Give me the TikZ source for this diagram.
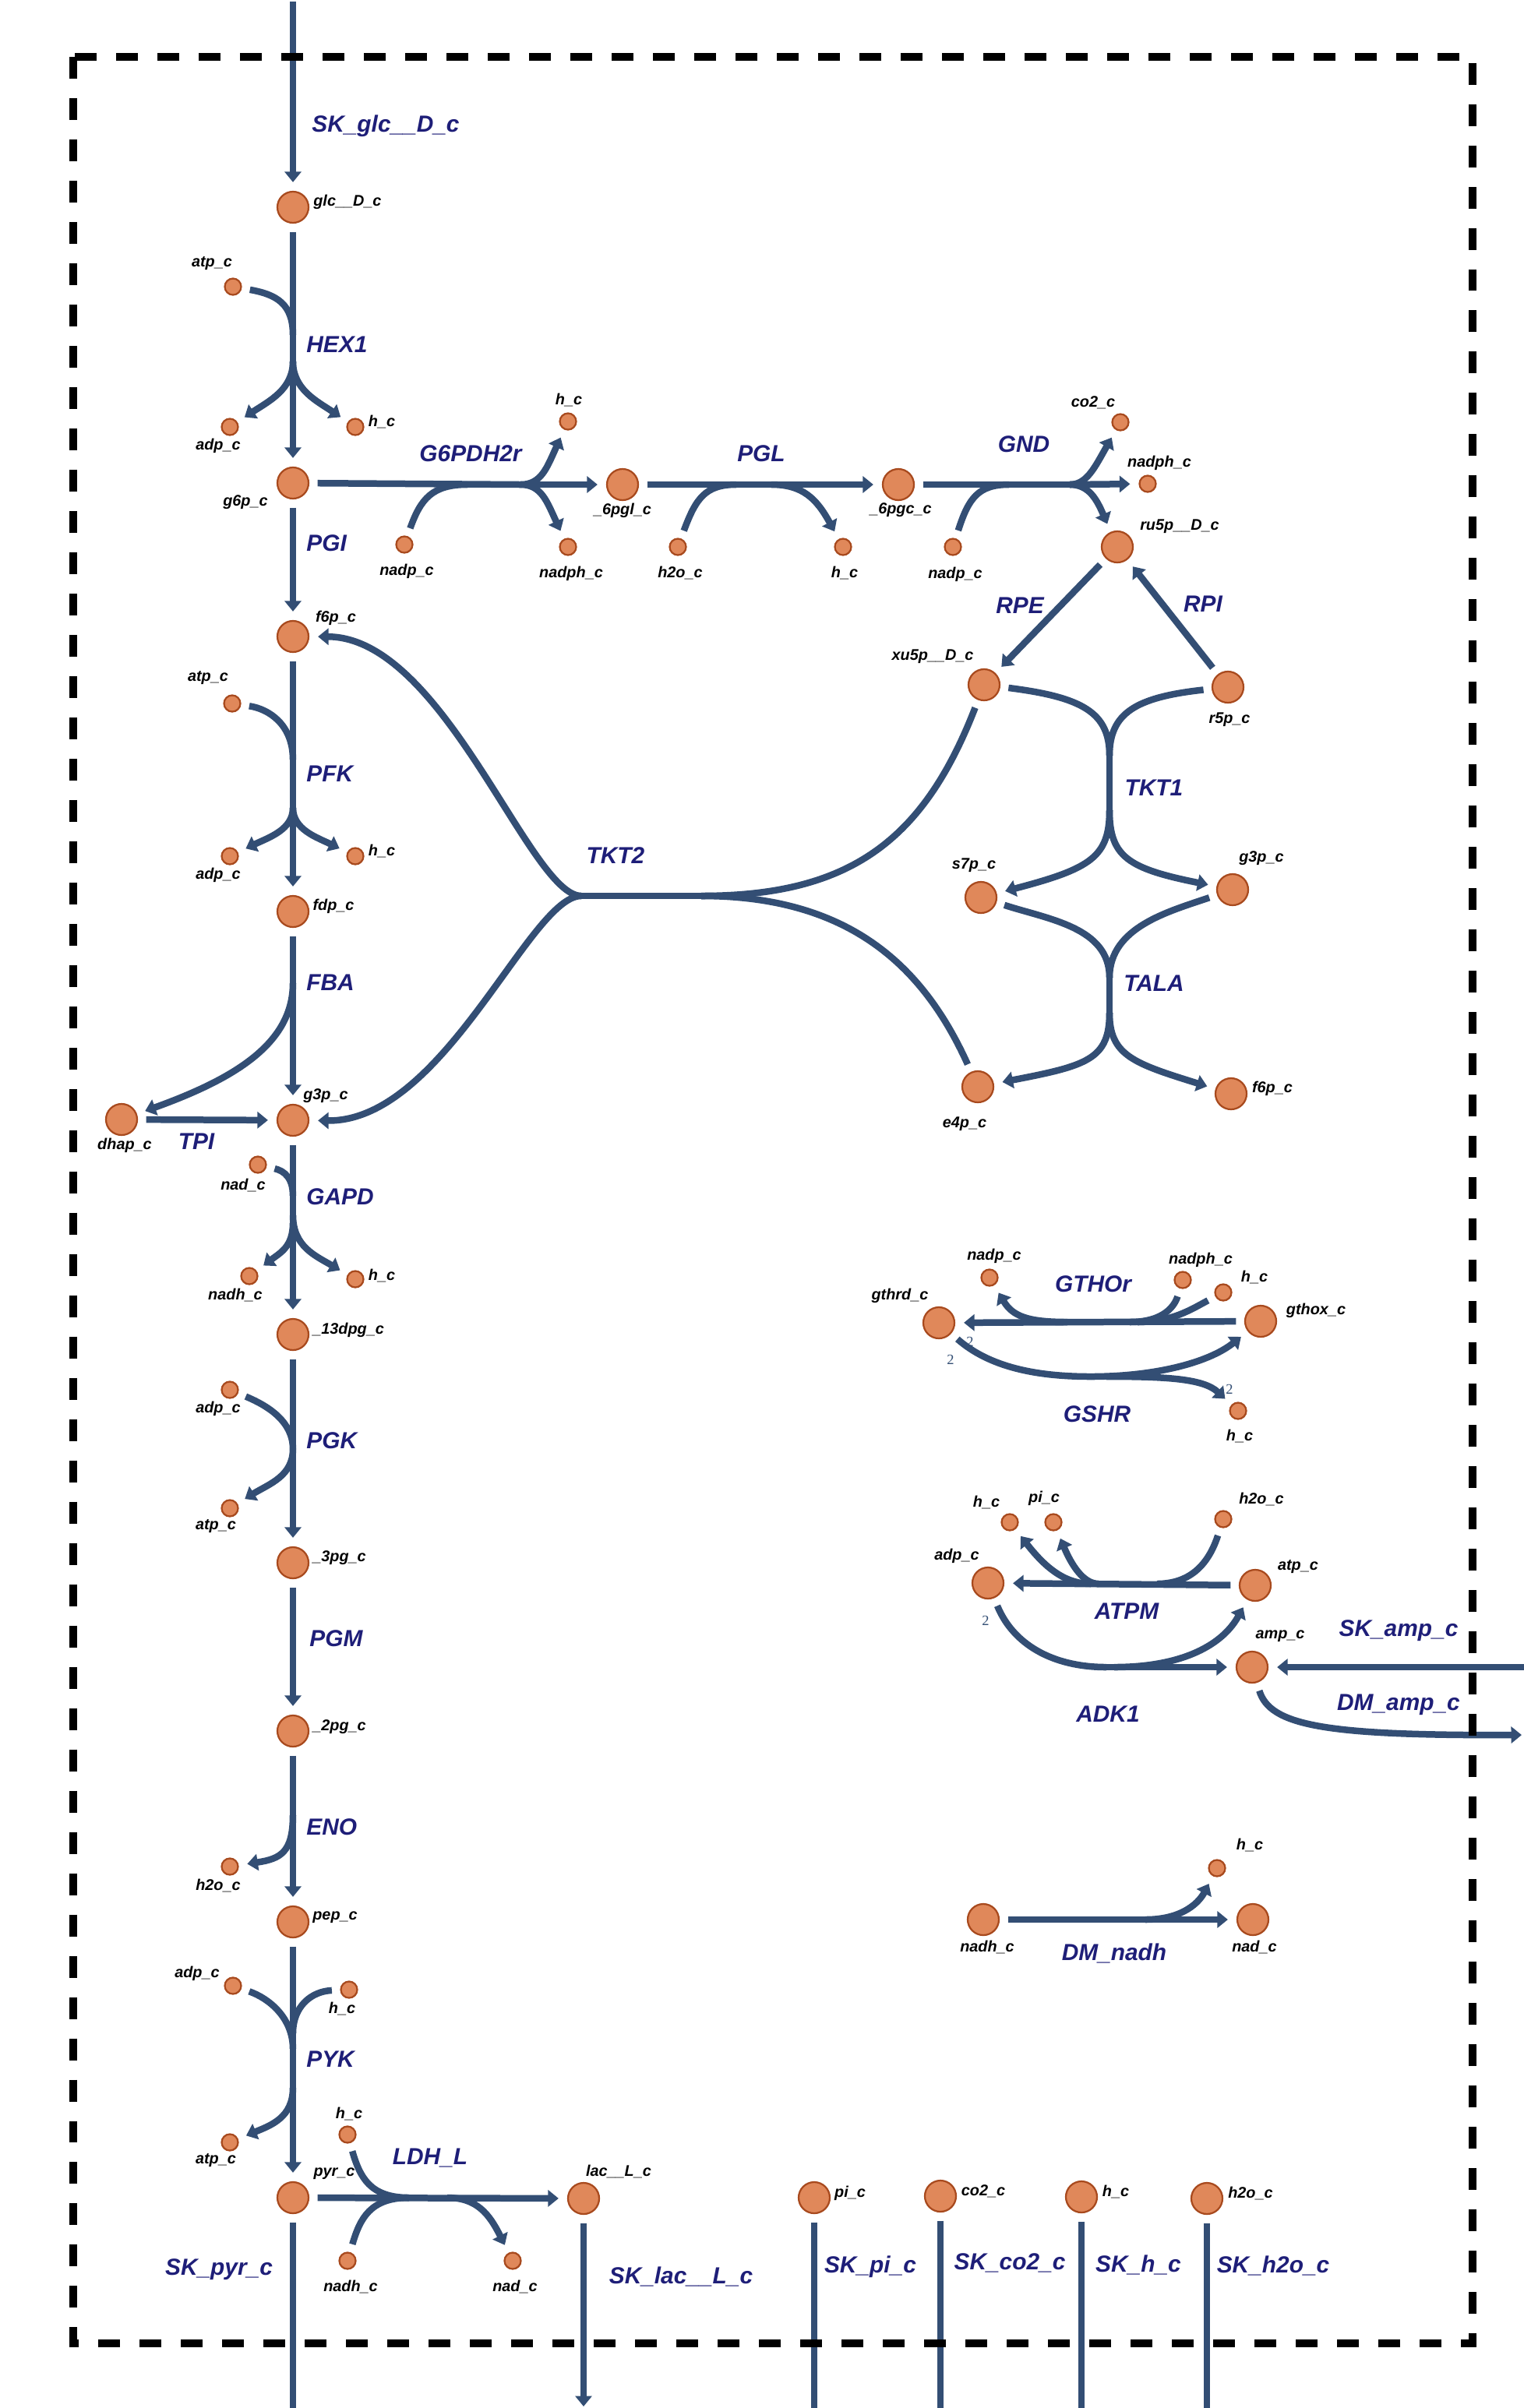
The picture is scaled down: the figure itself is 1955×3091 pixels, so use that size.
\documentclass[tikz,border=0pt]{standalone}
\usepackage{fontspec}
\newfontfamily\lsans{Liberation Sans}
\newfontfamily\lserif{Liberation Serif}
\usetikzlibrary{arrows.meta}
\definecolor{rxncol}{HTML}{334E74}
\definecolor{rxntext}{HTML}{1E1E78}
\definecolor{metfill}{HTML}{E0885A}
\definecolor{metedge}{HTML}{A84A1E}
\begin{document}
\begin{tikzpicture}[x=0.02cm,y=-0.02cm,
  met/.style={circle, draw=metedge, fill=metfill, line width=0.045cm, minimum size=0.8cm, inner sep=0pt},
  sm/.style={met, minimum size=0.42cm},
  ml/.style={font=\lsans\bfseries\itshape\fontsize{11.3}{12}\selectfont, inner sep=0pt},
  rl/.style={font=\lsans\bfseries\itshape\fontsize{17}{18}\selectfont, text=rxntext, inner sep=0pt},
  sto/.style={font=\lserif\fontsize{10.5}{11}\selectfont, text=rxncol, inner sep=0pt},
  rx/.style={draw=rxncol, line width=0.17cm},
  ar/.style={-{Triangle[width=0.42cm,length=0.27cm]}, shorten >=0.22cm},
  gs/.style={shorten <=0.21cm},
  ge/.style={shorten >=0.21cm},
  border/.style={draw=black, line width=0.214cm, dash pattern=on 0.56cm off 0.5cm}]
\path[use as bounding box] (0,0) rectangle (1955,3091);

% ---------------- major metabolites
\node[met] (glc) at (376,266) {};
\node[met] (g6p) at (376,620) {};
\node[met] (f6p) at (376,817) {};
\node[met] (fdp) at (376,1170) {};
\node[met] (g3p) at (376,1438) {};
\node[met] (dhap) at (156,1437) {};
\node[met] (dpg13) at (376,1713) {};
\node[met] (pg3) at (376,2006) {};
\node[met] (pg2) at (376,2222) {};
\node[met] (pep) at (376,2467) {};
\node[met] (pyr) at (376,2821) {};
\node[met] (lac) at (749,2822) {};
\node[met] (pgl6) at (799,622) {};
\node[met] (pgc6) at (1153,622) {};
\node[met] (ru5p) at (1434,702) {};
\node[met] (xu5p) at (1263,879) {};
\node[met] (r5p) at (1576,882) {};
\node[met] (s7p) at (1259,1152) {};
\node[met] (g3pB) at (1582,1142) {};
\node[met] (e4p) at (1255,1395) {};
\node[met] (f6pB) at (1580,1404) {};
\node[met] (gthrd) at (1205,1698) {};
\node[met] (gthox) at (1618,1696) {};
\node[met] (adpB) at (1268,2032) {};
\node[met] (atpB) at (1611,2035) {};
\node[met] (amp) at (1607,2140) {};
\node[met] (nadhB) at (1262,2464) {};
\node[met] (nadB) at (1608,2464) {};
\node[met] (piX) at (1045,2821) {};
\node[met] (co2X) at (1207,2819) {};
\node[met] (hX) at (1388,2820) {};
\node[met] (h2oX) at (1549,2822) {};

% ---------------- minor metabolites
\node[sm] (atp1) at (299,368) {};
\node[sm] (adp1) at (295,548) {};
\node[sm] (h1) at (456,548) {};
\node[sm] (nadp1) at (519,699) {};
\node[sm] (h2) at (729,541) {};
\node[sm] (nadph1) at (729,702) {};
\node[sm] (h2o1) at (870,702) {};
\node[sm] (h3) at (1082,702) {};
\node[sm] (nadp2) at (1223,702) {};
\node[sm] (co2a) at (1438,542) {};
\node[sm] (nadph2) at (1473,621) {};
\node[sm] (atp2) at (298,903) {};
\node[sm] (adp2) at (295,1099) {};
\node[sm] (h4) at (456,1099) {};
\node[sm] (nad1) at (331,1495) {};
\node[sm] (nadh1) at (320,1638) {};
\node[sm] (h5) at (456,1642) {};
\node[sm] (adp3) at (295,1784) {};
\node[sm] (atp3) at (295,1936) {};
\node[sm] (h2o2) at (295,2396) {};
\node[sm] (adp4) at (299,2549) {};
\node[sm] (h6) at (448,2554) {};
\node[sm] (atp4) at (295,2750) {};
\node[sm] (h7) at (446,2740) {};
\node[sm] (nadh2) at (446,2902) {};
\node[sm] (nad2) at (658,2902) {};
\node[sm] (nadp3) at (1270,1640) {};
\node[sm] (nadph3) at (1518,1643) {};
\node[sm] (h8) at (1570,1659) {};
\node[sm] (h9) at (1589,1811) {};
\node[sm] (h10) at (1296,1954) {};
\node[sm] (pi1) at (1352,1954) {};
\node[sm] (h2o3) at (1570,1950) {};
\node[sm] (h11) at (1562,2398) {};

% ---------------- branch points and free ends
\coordinate (skglcT) at (376,2);
\coordinate (hexJ) at (376,430);
\coordinate (hexS) at (376,464);
\coordinate (g6J) at (600,622);
\coordinate (g6S) at (668,622);
\coordinate (pglJ) at (945,622);
\coordinate (pglS) at (990,622);
\coordinate (gndJ) at (1295,622);
\coordinate (gndS) at (1373,622);
\coordinate (pfkJ) at (376,975);
\coordinate (pfkS) at (376,1037);
\coordinate (fbaS) at (376,1262);
\coordinate (tk2S) at (746,1150);
\coordinate (tk2R) at (900,1150);
\coordinate (tk1J) at (1424,970);
\coordinate (tk1S) at (1424,1040);
\coordinate (talJ) at (1424,1255);
\coordinate (talS) at (1424,1300);
\coordinate (gapJ) at (376,1535);
\coordinate (gapS1) at (376,1570);
\coordinate (gapS2) at (376,1560);
\coordinate (pgkM) at (376,1860);
\coordinate (enoS) at (376,2330);
\coordinate (pykJ1) at (376,2630);
\coordinate (pykJ2) at (376,2610);
\coordinate (pykS) at (376,2680);
\coordinate (ldhJ) at (525,2821);
\coordinate (ldhS) at (574,2821);
\coordinate (skpyrB) at (376,3093);
\coordinate (sklacB) at (749,3100);
\coordinate (skpiB) at (1045,3093);
\coordinate (skco2B) at (1207,3093);
\coordinate (skhB) at (1388,3093);
\coordinate (skh2oB) at (1549,3093);
\coordinate (gthJ1) at (1450,1697);
\coordinate (gthJ2) at (1460,1697);
\coordinate (gthS) at (1370,1697);
\coordinate (gshM) at (1400,1767);
\coordinate (gshS) at (1420,1767);
\coordinate (atpmJ) at (1485,2033);
\coordinate (atpmS1) at (1400,2033);
\coordinate (atpmS2) at (1410,2033);
\coordinate (adkM) at (1420,2140);
\coordinate (adkS) at (1430,2140);
\coordinate (skampR) at (1957,2140);
\coordinate (dmampR) at (1964,2227);
\coordinate (dmnS) at (1470,2464);

% ---------------- stoichiometry
\node[sto] (st1) at (1245,1722) {2};
\node[sto] (st2) at (1220,1745) {2};
\node[sto] (st3) at (1578,1783) {2};
\node[sto] (st4) at (1265,2080) {2};

% ---------------- reactions
% SK_glc__D_c
\draw[rx,ar] (skglcT) -- (glc);
% HEX1
\draw[rx,gs] (glc) -- (hexS);
\draw[rx,gs] (atp1) .. controls (355,378) and (376,390) .. (hexJ);
\draw[rx,ar] (hexS) -- (g6p);
\draw[rx,ar] (hexS) .. controls (376,500) and (345,515) .. (adp1);
\draw[rx,ar] (hexS) .. controls (376,500) and (407,515) .. (h1);
% G6PDH2r
\draw[rx,gs] (g6p) -- (g6S);
\draw[rx,gs] (nadp1) .. controls (540,640) and (555,622) .. (g6J);
\draw[rx,ar] (g6S) .. controls (695,622) and (702,600) .. (h2);
\draw[rx,ar] (g6S) .. controls (695,622) and (702,644) .. (nadph1);
\draw[rx,ar] (g6S) -- (pgl6);
% PGL
\draw[rx,gs,ar] (pgl6) -- (pgc6);
\draw[rx,gs] (h2o1) .. controls (893,640) and (905,622) .. (pglJ);
\draw[rx,ar] (pglS) .. controls (1030,622) and (1048,640) .. (h3);
% GND
\draw[rx,gs] (pgc6) -- (gndS);
\draw[rx,gs] (nadp2) .. controls (1243,640) and (1255,622) .. (gndJ);
\draw[rx,ar] (gndS) .. controls (1395,622) and (1405,600) .. (co2a);
\draw[rx,ar] (gndS) -- (nadph2);
\draw[rx,ar] (gndS) .. controls (1398,622) and (1408,642) .. (ru5p);
% RPE, RPI
\draw[rx,gs,ar] (ru5p) -- (xu5p);
\draw[rx,gs,ar] (r5p) -- (ru5p);
% PGI
\draw[rx,gs,ar] (g6p) -- (f6p);
% PFK
\draw[rx,gs,ar] (f6p) -- (fdp);
\draw[rx,gs] (atp2) .. controls (345,910) and (376,930) .. (pfkJ);
\draw[rx,ar] (pfkS) .. controls (376,1065) and (345,1075) .. (adp2);
\draw[rx,ar] (pfkS) .. controls (376,1065) and (407,1075) .. (h4);
% FBA
\draw[rx,gs,ar] (fdp) -- (g3p);
\draw[rx,ar] (fbaS) .. controls (376,1340) and (300,1385) .. (dhap);
% TPI
\draw[rx,gs,ar] (dhap) -- (g3p);
% TKT2
\draw[rx,ar] (tk2S) .. controls (680,1150) and (570,818) .. (f6p);
\draw[rx,ar] (tk2S) .. controls (680,1150) and (570,1440) .. (g3p);
\draw[rx] (tk2S) -- (tk2R);
\draw[rx,ge] (tk2R) .. controls (1090,1150) and (1185,1080) .. (xu5p);
\draw[rx,ge] (tk2R) .. controls (1090,1150) and (1185,1240) .. (e4p);
% TKT1
\draw[rx,gs] (xu5p) .. controls (1390,895) and (1424,915) .. (tk1J);
\draw[rx,gs] (r5p) .. controls (1458,895) and (1424,915) .. (tk1J);
\draw[rx] (tk1J) -- (tk1S);
\draw[rx,ar] (tk1S) .. controls (1424,1100) and (1400,1115) .. (s7p);
\draw[rx,ar] (tk1S) .. controls (1424,1100) and (1448,1115) .. (g3pB);
% TALA
\draw[rx,gs] (s7p) .. controls (1345,1180) and (1424,1190) .. (talJ);
\draw[rx,gs] (g3pB) .. controls (1500,1170) and (1424,1190) .. (talJ);
\draw[rx] (talJ) -- (talS);
\draw[rx,ar] (talS) .. controls (1424,1360) and (1395,1368) .. (e4p);
\draw[rx,ar] (talS) .. controls (1424,1355) and (1455,1365) .. (f6pB);
% GAPD
\draw[rx,gs,ar] (g3p) -- (dpg13);
\draw[rx,gs] (nad1) .. controls (365,1503) and (376,1512) .. (gapJ);
\draw[rx,ar] (gapS1) .. controls (376,1600) and (360,1608) .. (nadh1);
\draw[rx,ar] (gapS2) .. controls (376,1600) and (405,1612) .. (h5);
% PGK
\draw[rx,gs,ar] (dpg13) -- (pg3);
\draw[rx,gs] (adp3) .. controls (345,1805) and (376,1825) .. (pgkM);
\draw[rx,ar] (pgkM) .. controls (376,1895) and (345,1905) .. (atp3);
% PGM
\draw[rx,gs,ar] (pg3) -- (pg2);
% ENO
\draw[rx,gs,ar] (pg2) -- (pep);
\draw[rx,ar] (enoS) .. controls (376,2378) and (360,2386) .. (h2o2);
% PYK
\draw[rx,gs,ar] (pep) -- (pyr);
\draw[rx,gs] (adp4) .. controls (345,2565) and (376,2590) .. (pykJ1);
\draw[rx,gs] (h6) .. controls (400,2556) and (376,2575) .. (pykJ2);
\draw[rx,ar] (pykS) .. controls (376,2718) and (348,2728) .. (atp4);
% LDH_L
\draw[rx,gs,ar] (pyr) -- (lac);
\draw[rx,gs] (h7) .. controls (462,2795) and (475,2821) .. (ldhJ);
\draw[rx,gs] (nadh2) .. controls (462,2848) and (475,2821) .. (ldhJ);
\draw[rx,ar] (ldhS) .. controls (612,2821) and (628,2842) .. (nad2);
% sinks
\draw[rx,gs] (pyr) -- (skpyrB);
\draw[rx,gs,ar] (lac) -- (sklacB);
\draw[rx,gs] (piX) -- (skpiB);
\draw[rx,gs] (co2X) -- (skco2B);
\draw[rx,gs] (hX) -- (skhB);
\draw[rx,gs] (h2oX) -- (skh2oB);
% GTHOr
\draw[rx,gs,ar] (gthox) -- (gthrd);
\draw[rx,gs] (nadph3) .. controls (1508,1675) and (1495,1697) .. (gthJ1);
\draw[rx,gs] (h8) .. controls (1530,1680) and (1505,1697) .. (gthJ2);
\draw[rx,ar] (gthS) .. controls (1320,1697) and (1300,1690) .. (nadp3);
% GSHR
\draw[rx,gs] (gthrd) .. controls (1270,1755) and (1330,1767) .. (gshM);
\draw[rx,ar] (gshM) .. controls (1480,1767) and (1550,1750) .. (gthox);
\draw[rx,ar] (gshS) .. controls (1500,1767) and (1545,1770) .. (h9);
% ATPM
\draw[rx,gs,ar] (atpB) -- (adpB);
\draw[rx,gs] (h2o3) .. controls (1552,2005) and (1530,2033) .. (atpmJ);
\draw[rx,ar] (atpmS1) .. controls (1365,2033) and (1340,2010) .. (h10);
\draw[rx,ar] (atpmS2) .. controls (1390,2033) and (1375,2008) .. (pi1);
% ADK1
\draw[rx,gs] (adpB) .. controls (1300,2110) and (1350,2140) .. (adkM);
\draw[rx,ar] (adkM) -- (amp);
\draw[rx,ar] (adkS) .. controls (1520,2140) and (1570,2110) .. (atpB);
% SK_amp_c, DM_amp_c
\draw[rx,ar] (skampR) -- (amp);
\draw[rx,gs,ar] (amp) .. controls (1630,2215) and (1700,2228) .. (dmampR);
% DM_nadh
\draw[rx,gs,ar] (nadhB) -- (nadB);
\draw[rx,ar] (dmnS) .. controls (1520,2464) and (1540,2440) .. (h11);

% ---------------- metabolite labels
\node[ml,anchor=west] (lglc) at (402,259) {glc\_\_D\_c};
\node[ml] (lg6p) at (315,645) {g6p\_c};
\node[ml] (lf6p) at (431,793) {f6p\_c};
\node[ml] (latp2) at (267,870) {atp\_c};
\node[ml] (ladp2) at (280,1123) {adp\_c};
\node[ml] (lh4) at (490,1093) {h\_c};
\node[ml] (lfdp) at (428,1163) {fdp\_c};
\node[ml] (lg3p) at (418,1407) {g3p\_c};
\node[ml] (ldhap) at (160,1470) {dhap\_c};
\node[ml] (latp1) at (272,338) {atp\_c};
\node[ml] (ladp1) at (280,572) {adp\_c};
\node[ml] (lh1) at (490,542) {h\_c};
\node[ml] (lh2) at (730,514) {h\_c};
\node[ml] (lnadp1) at (522,733) {nadp\_c};
\node[ml] (lnadph1) at (733,736) {nadph\_c};
\node[ml] (lpgl6) at (799,655) {\_6pgl\_c};
\node[ml] (lh2o1) at (873,736) {h2o\_c};
\node[ml] (lh3) at (1084,736) {h\_c};
\node[ml] (lpgc6) at (1156,655) {\_6pgc\_c};
\node[ml] (lnadp2) at (1226,737) {nadp\_c};
\node[ml] (lco2a) at (1403,517) {co2\_c};
\node[ml] (lnadph2) at (1488,594) {nadph\_c};
\node[ml] (lru5p) at (1514,676) {ru5p\_\_D\_c};
\node[ml] (lxu5p) at (1197,843) {xu5p\_\_D\_c};
\node[ml] (lr5p) at (1578,924) {r5p\_c};
\node[ml] (ls7p) at (1250,1111) {s7p\_c};
\node[ml] (lg3pB) at (1619,1102) {g3p\_c};
\node[ml] (le4p) at (1238,1443) {e4p\_c};
\node[ml] (lf6pB) at (1633,1397) {f6p\_c};
\node[ml] (lnad1) at (312,1521) {nad\_c};
\node[ml] (lnadh1) at (302,1662) {nadh\_c};
\node[ml] (lh5) at (490,1637) {h\_c};
\node[ml,anchor=west] (ldpg13) at (401,1707) {\_13dpg\_c};
\node[ml] (ladp3) at (280,1808) {adp\_c};
\node[ml] (latp3) at (277,1959) {atp\_c};
\node[ml,anchor=west] (lpg3) at (401,2000) {\_3pg\_c};
\node[ml,anchor=west] (lpg2) at (401,2217) {\_2pg\_c};
\node[ml,anchor=west] (lpep) at (401,2461) {pep\_c};
\node[ml] (lh2o2) at (280,2420) {h2o\_c};
\node[ml] (ladp4) at (253,2533) {adp\_c};
\node[ml] (lh6) at (439,2578) {h\_c};
\node[ml] (latp4) at (277,2773) {atp\_c};
\node[ml] (lpyr) at (429,2790) {pyr\_c};
\node[ml] (lh7) at (448,2713) {h\_c};
\node[ml] (lnadh2) at (450,2935) {nadh\_c};
\node[ml] (lnad2) at (661,2935) {nad\_c};
\node[ml] (llac) at (794,2787) {lac\_\_L\_c};
\node[ml] (lpiX) at (1091,2815) {pi\_c};
\node[ml] (lco2X) at (1262,2813) {co2\_c};
\node[ml] (lhX) at (1432,2813) {h\_c};
\node[ml] (lh2oX) at (1605,2815) {h2o\_c};
\node[ml] (lgthrd) at (1155,1663) {gthrd\_c};
\node[ml] (lgthox) at (1689,1682) {gthox\_c};
\node[ml] (lnadp3) at (1276,1612) {nadp\_c};
\node[ml] (lnadph3) at (1541,1617) {nadph\_c};
\node[ml] (lh8) at (1610,1639) {h\_c};
\node[ml] (lh9) at (1591,1843) {h\_c};
\node[ml] (lh10) at (1266,1928) {h\_c};
\node[ml] (lpi1) at (1340,1923) {pi\_c};
\node[ml] (lh2o3) at (1619,1924) {h2o\_c};
\node[ml] (ladpB) at (1228,1997) {adp\_c};
\node[ml] (latpB) at (1666,2011) {atp\_c};
\node[ml] (lamp) at (1643,2100) {amp\_c};
\node[ml] (lnadhB) at (1267,2499) {nadh\_c};
\node[ml] (lnadB) at (1610,2499) {nad\_c};
\node[ml] (lh11) at (1604,2368) {h\_c};

% ---------------- reaction labels
\node[rl,anchor=west] (rskglc) at (400,162) {SK\_glc\_\_D\_c};
\node[rl,anchor=west] (rhex) at (393,442) {HEX1};
\node[rl,anchor=west] (rpgi) at (393,697) {PGI};
\node[rl] (rg6p) at (604,582) {G6PDH2r};
\node[rl] (rpgl) at (977,582) {PGL};
\node[rl] (rgnd) at (1314,570) {GND};
\node[rl] (rrpe) at (1309,777) {RPE};
\node[rl] (rrpi) at (1544,775) {RPI};
\node[rl,anchor=west] (rpfk) at (393,993) {PFK};
\node[rl,anchor=west] (rfba) at (393,1261) {FBA};
\node[rl] (rtkt2) at (790,1098) {TKT2};
\node[rl] (rtkt1) at (1481,1011) {TKT1};
\node[rl] (rtala) at (1481,1262) {TALA};
\node[rl] (rtpi) at (252,1465) {TPI};
\node[rl,anchor=west] (rgapd) at (393,1536) {GAPD};
\node[rl,anchor=west] (rpgk) at (393,1849) {PGK};
\node[rl,anchor=west] (rpgm) at (397,2103) {PGM};
\node[rl,anchor=west] (reno) at (393,2345) {ENO};
\node[rl,anchor=west] (rpyk) at (393,2643) {PYK};
\node[rl] (rldh) at (552,2770) {LDH\_L};
\node[rl] (rskpyr) at (281,2913) {SK\_pyr\_c};
\node[rl] (rsklac) at (874,2922) {SK\_lac\_\_L\_c};
\node[rl] (rskpi) at (1117,2910) {SK\_pi\_c};
\node[rl] (rskco2) at (1296,2905) {SK\_co2\_c};
\node[rl] (rskh) at (1461,2907) {SK\_h\_c};
\node[rl] (rskh2o) at (1634,2908) {SK\_h2o\_c};
\node[rl] (rgthor) at (1403,1648) {GTHOr};
\node[rl] (rgshr) at (1408,1815) {GSHR};
\node[rl] (ratpm) at (1446,2068) {ATPM};
\node[rl] (radk) at (1422,2200) {ADK1};
\node[rl] (rskamp) at (1795,2093) {SK\_amp\_c};
\node[rl] (rdmamp) at (1795,2188) {DM\_amp\_c};
\node[rl] (rdmnadh) at (1430,2507) {DM\_nadh};

% ---------------- compartment border
\draw[border] (94,73) rectangle (1890,3008);
\end{tikzpicture}
\end{document}
